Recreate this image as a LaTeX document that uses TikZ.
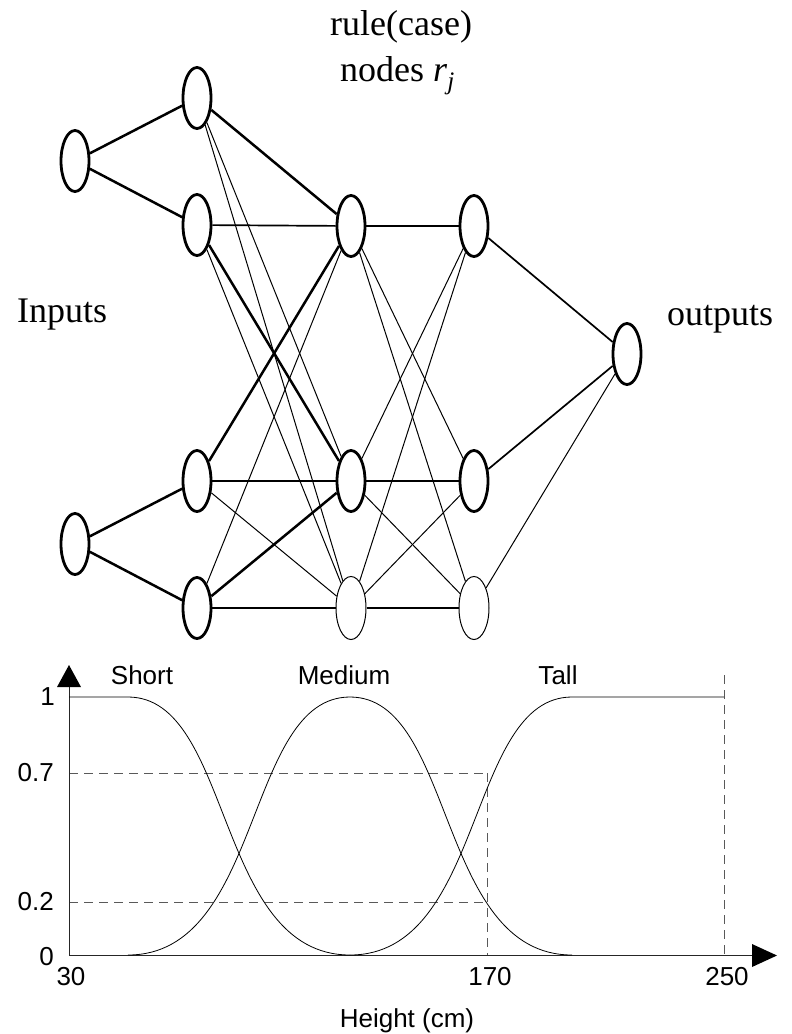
\documentclass[tikz,border=0pt]{standalone}
\usepackage{fontspec}
\setmainfont{Liberation Serif}
\setsansfont{Liberation Sans}
\usetikzlibrary{shapes.geometric}
\begin{document}
\begin{tikzpicture}[x=1pt,y=-1pt,
  nn/.style={ellipse, draw, line width=2.8pt, minimum width=28pt, minimum height=61pt, inner sep=0pt},
  nnthin/.style={ellipse, draw, line width=1pt, minimum width=30pt, minimum height=63pt, inner sep=0pt},
  thinedge/.style={line width=1pt},
  midedge/.style={line width=1.7pt},
  thickedge/.style={line width=2.5pt},
  serlab/.style={font=\fontsize{36}{43}\selectfont, inner sep=0pt},
  sanslab/.style={font=\sffamily\fontsize{26}{30}\selectfont, inner sep=0pt},
  axisline/.style={line width=1pt, black!85},
  curve/.style={line width=0.8pt, black},
  guide/.style={line width=1pt, black!65, dash pattern=on 9pt off 6pt}
]
\useasboundingbox (0,0) rectangle (792,1034);

% ---------------- network ----------------
\node[nn] (I1) at (75,161) {};
\node[nn] (I2) at (75,544) {};
\node[nn] (A1) at (197,98) {};
\node[nn] (A2) at (197,225) {};
\node[nn] (A3) at (197,481) {};
\node[nn] (A4) at (197,608) {};
\node[nn] (R1) at (351,226) {};
\node[nn] (R2) at (351,481) {};
\node[nnthin] (R3) at (351,608) {};
\node[nn] (N1) at (474,226) {};
\node[nn] (N2) at (474,481) {};
\node[nnthin] (N3) at (474,608) {};
\node[nn] (O) at (627,354) {};

% input -> fuzzy
\draw[thickedge] (I1) -- (A1);
\draw[thickedge] (I1) -- (A2);
\draw[thickedge] (I2) -- (A3);
\draw[thickedge] (I2) -- (A4);

% fuzzy -> rule
\draw[thickedge] (A1) -- (R1);
\draw[thinedge] (A1) -- (R2);
\draw[thinedge] (A1) -- (R3);
\draw[midedge] (A2) -- (R1);
\draw[thickedge] (A2) -- (R2);
\draw[thinedge] (A2) -- (R3);
\draw[thickedge] (A3) -- (R1);
\draw[midedge] (A3) -- (R2);
\draw[thinedge] (A3) -- (R3);
\draw[thinedge] (A4) -- (R1);
\draw[thickedge] (A4) -- (R2);
\draw[midedge] (A4) -- (R3);

% rule -> normalisation
\draw[midedge] (R1) -- (N1);
\draw[thinedge] (R1) -- (N2);
\draw[thinedge] (R1) -- (N3);
\draw[thinedge] (R2) -- (N1);
\draw[thickedge] (R2) -- (N2);
\draw[thinedge] (R2) -- (N3);
\draw[thinedge] (R3) -- (N1);
\draw[thinedge] (R3) -- (N2);
\draw[midedge] (R3) -- (N3);

% -> output
\draw[midedge] (N1) -- (O);
\draw[midedge] (N2) -- (O);
\draw[thinedge] (N3) -- (O);

% labels
\node[serlab, anchor=base west] (lrule) at (330,35) {rule(case)};
\node[serlab, anchor=base west] (lnodes) at (340,81) {nodes \textit{r}\textsubscript{\textit{j}}};
\node[serlab, anchor=base west] (linputs) at (17,322) {Inputs};
\node[serlab, anchor=base west] (loutputs) at (667,325) {outputs};

% ---------------- membership chart ----------------
% guides
\draw[guide] (69,773) -- (487,773);
\draw[guide] (69,902) -- (487,902);
\draw[guide] (487,773) -- (487,955);
\draw[guide] (724,675) -- (724,955);

% axes
\draw[axisline] (69,955) -- (69,686);
\draw[axisline] (69,955) -- (753,955);
\fill[black] (57,687) -- (81,687) -- (69,665) -- cycle;
\fill[black] (752,944) -- (752,967) -- (777,955.5) -- cycle;

% curves
\draw[curve] (69,697) -- (128,697) .. controls (233,697) and (215,955) .. (350,955);
\draw[curve] (128,955) .. controls (263,955) and (245,697) .. (350,697)
  .. controls (455,697) and (437,955) .. (572,955);
\draw[curve] (350,955) .. controls (485,955) and (467,697) .. (572,697) -- (724,697);

% chart labels
\node[sanslab, anchor=base] (tshort) at (142,684) {Short};
\node[sanslab, anchor=base] (tmed) at (344,684) {Medium};
\node[sanslab, anchor=base] (ttall) at (558,684) {Tall};
\node[sanslab, anchor=east] (y1) at (55,697) {1};
\node[sanslab, anchor=east] (y07) at (54,773) {0.7};
\node[sanslab, anchor=east] (y02) at (54,902) {0.2};
\node[sanslab, anchor=east] (y0) at (54,957) {0};
\node[sanslab] (x30) at (71,977) {30};
\node[sanslab] (x170) at (490,977) {170};
\node[sanslab] (x250) at (727,977) {250};
\node[sanslab] (xlab) at (407,1021) {Height (cm)};
\end{tikzpicture}
\end{document}
